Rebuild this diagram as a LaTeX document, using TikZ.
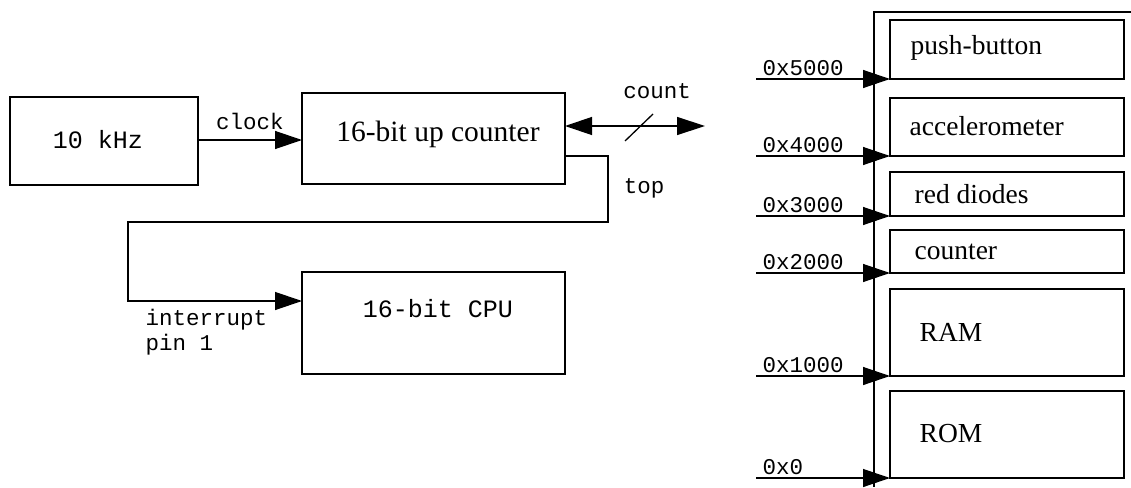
\documentclass[tikz,border=0pt]{standalone}
\usepackage{fontspec}
\setmainfont{Liberation Serif}
\newfontfamily\monof{Liberation Mono}
\usetikzlibrary{arrows.meta}
\begin{document}
\begin{tikzpicture}[x=1pt,y=-1pt,
  line width=1.3pt,
  box/.style={draw, rectangle, inner sep=0pt, outer sep=0pt},
  serif/.style={font=\fontsize{29.5}{34}\selectfont},
  boxmono/.style={font=\monof\fontsize{25}{29}\selectfont},
  lbl/.style={font=\monof\fontsize{22.5}{25}\selectfont, inner sep=0pt},
  memtxt/.style={font=\fontsize{27.5}{32}\selectfont, anchor=west, inner sep=0pt},
  arr/.style={-{Triangle[length=27pt,width=18pt]}},
  darr/.style={{Triangle[length=27pt,width=18pt]}-{Triangle[length=28pt,width=18pt]}}]
\useasboundingbox (0,0) rectangle (1131,487);

% left part
\node[box, minimum width=188pt, minimum height=88pt] (osc) at (104,141) {};
\node[boxmono] (osctxt) at (98,140) {10 kHz};
\node[box, minimum width=263pt, minimum height=91pt] (ctr) at (433.5,138.5) {};
\node[serif] (ctrtxt) at (438,134) {16-bit up counter};
\node[box, minimum width=263pt, minimum height=102pt] (cpu) at (433.5,323) {};
\node[boxmono] (cputxt) at (438,309) {16-bit CPU};

\draw[arr] (osc.east |- 0,140) -- (ctr.west |- 0,140);
\node[lbl] (clk) at (250,121) {clock};

\coordinate (cnt1) at (565,126);
\coordinate (cnt2) at (705,126);
\draw[darr] (cnt1) -- (cnt2);
\coordinate (s1) at (625,141);
\coordinate (s2) at (653,114);
\draw (s1) -- (s2);
\node[lbl] (cntlbl) at (657,91) {count};

\coordinate (topout) at (565,156);
\coordinate (t1) at (608,156);
\coordinate (t2) at (608,222);
\coordinate (t3) at (128,222);
\coordinate (t4) at (128,301);
\draw[arr] (topout) -- (t1) -- (t2) -- (t3) -- (t4) -- (t4 -| cpu.west);
\node[lbl] (toplbl) at (644,188) {top};
\node[lbl, anchor=north west, align=left] (intlbl) at (145,309) {interrupt\\pin 1};

% memory map
\coordinate (bustop) at (874,12);
\coordinate (busbot) at (874,487);
\coordinate (busright) at (1131,12);
\draw (busright) -- (bustop) -- (busbot);

\node[box, minimum width=234pt, minimum height=59pt] (pb) at (1007,49.5) {};
\node[box, minimum width=234pt, minimum height=58pt] (acc) at (1007,127) {};
\node[box, minimum width=234pt, minimum height=44pt] (red) at (1007,194) {};
\node[box, minimum width=234pt, minimum height=43pt] (cnt) at (1007,251.5) {};
\node[box, minimum width=234pt, minimum height=87pt] (ram) at (1007,332.5) {};
\node[box, minimum width=234pt, minimum height=87pt] (rom) at (1007,434.5) {};

\node[memtxt] (pbt) at (910,48) {push-button};
\node[memtxt] (acct) at (909,126) {accelerometer};
\node[memtxt] (redt) at (914,194) {red diodes};
\node[memtxt] (cntt) at (914,252) {counter};
\node[memtxt] (ramt) at (919,332) {RAM};
\node[memtxt] (romt) at (919,434) {ROM};

\foreach \b/\a/\t in {pb/a5/0x5000, acc/a4/0x4000, red/a3/0x3000, cnt/a2/0x2000, ram/a1/0x1000, rom/a0/0x0}{
  \coordinate (\a) at (756,0 |- \b.south);
  \draw[arr] (\a) -- (\b.south west);
  \node[lbl, anchor=south west] (\a l) at ([xshift=6pt,yshift=3pt]\a) {\t};
}
\end{tikzpicture}
\end{document}
